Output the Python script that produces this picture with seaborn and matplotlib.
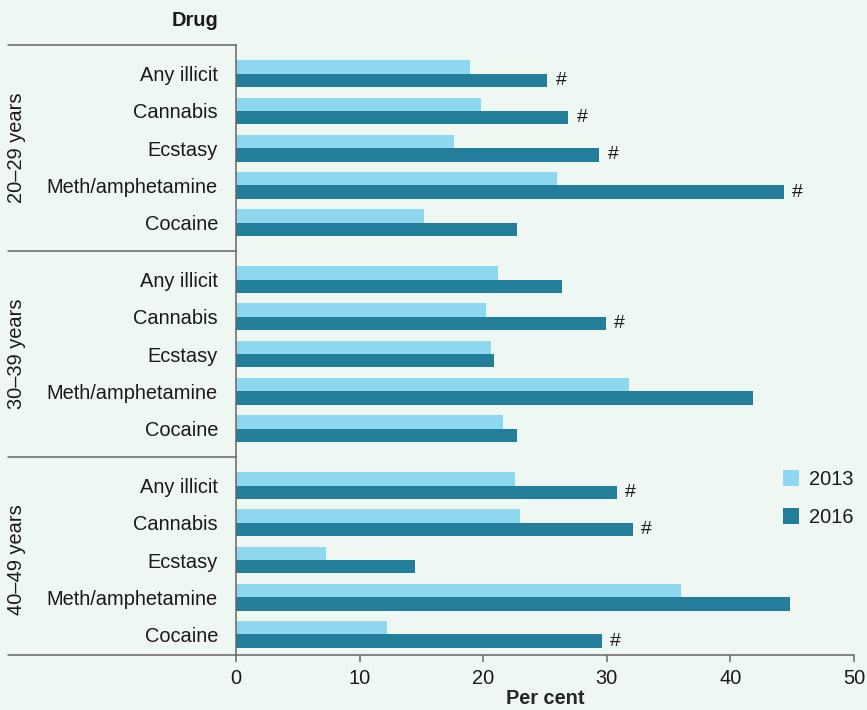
import numpy as np
import pandas as pd
import matplotlib
matplotlib.use("Agg")
import matplotlib.pyplot as plt
import matplotlib.transforms as mtransforms
import seaborn as sns

# data
age_groups = ["20\u201329 years", "30\u201339 years", "40\u201349 years"]
drugs = ["Any illicit", "Cannabis", "Ecstasy", "Meth/amphetamine", "Cocaine"]
years = ["2013", "2016"]

values_2013 = [
    [18.9, 19.8, 17.6, 26.0, 15.2],
    [21.2, 20.2, 20.6, 31.8, 21.6],
    [22.6, 23.0, 7.3, 36.0, 12.2],
]
values_2016 = [
    [25.2, 26.9, 29.4, 44.3, 22.7],
    [26.4, 29.9, 20.9, 41.8, 22.7],
    [30.8, 32.1, 14.5, 44.8, 29.6],
]
# '#' marks (significant change) on the 2016 bars
hash_2016 = [
    [True, True, True, True, False],
    [False, True, False, False, False],
    [True, True, False, False, True],
]

x_ticks = [0, 10, 20, 30, 40, 50]

BG = "#eff7f2"
LIGHT = "#8ed8ef"
DARK = "#237f99"
TXT = "#1a1a1a"
LINE = "#666666"

GROUP_STEP = 5.53
ROW_OFFSET = 0.77
Y_BOTTOM = 16.38

rows = []
for g, grp in enumerate(age_groups):
    for i, drug in enumerate(drugs):
        ypos = g * GROUP_STEP + ROW_OFFSET + i
        rows.append({"group": grp, "drug": drug, "year": "2013",
                     "value": values_2013[g][i], "ypos": ypos})
        rows.append({"group": grp, "drug": drug, "year": "2016",
                     "value": values_2016[g][i], "ypos": ypos})
df = pd.DataFrame(rows)

sns.set_theme(style="white")
plt.rcParams["font.family"] = ["Liberation Sans", "DejaVu Sans"]
plt.rcParams["text.color"] = TXT

fig = plt.figure(figsize=(8.67, 7.10), dpi=100, facecolor=BG)
ax = fig.add_axes([0.2722, 0.0775, 0.7128, 0.8591])
ax.set_facecolor(BG)

sns.barplot(data=df, x="value", y="ypos", hue="year", hue_order=years,
            orient="h", native_scale=True, width=0.72, errorbar=None,
            palette={"2013": LIGHT, "2016": DARK}, saturation=1,
            linewidth=0, ax=ax)

ax.set_xlim(0, 50)
ax.set_ylim(Y_BOTTOM, 0)
ax.set_xticks(x_ticks)
ax.set_xticklabels([str(t) for t in x_ticks], fontsize=14.4, color=TXT)

ytick_pos = sorted(df["ypos"].unique())
ax.set_yticks(ytick_pos)
ax.set_yticklabels(drugs * len(age_groups), fontsize=14.4, color=TXT)
ax.tick_params(axis="y", length=0, pad=13)
ax.tick_params(axis="x", length=5, width=1.1, color=LINE, pad=5,
               direction="out", bottom=True)

for side in ["top", "right"]:
    ax.spines[side].set_visible(False)
for side in ["left", "bottom"]:
    ax.spines[side].set_color(LINE)
    ax.spines[side].set_linewidth(1.1)

ax.set_xlabel("Per cent", fontsize=14.4, fontweight="bold", labelpad=1)
ax.set_ylabel("")

# '#' markers after the 2016 bars
for g in range(len(age_groups)):
    for i in range(len(drugs)):
        if hash_2016[g][i]:
            y = g * GROUP_STEP + ROW_OFFSET + i + 0.18
            ax.annotate("#", xy=(values_2016[g][i], y), xytext=(6, 0),
                        textcoords="offset points", ha="left", va="center",
                        fontsize=14, color=TXT)

# group separators and rotated group labels on the left
trans = mtransforms.blended_transform_factory(ax.transAxes, ax.transData)
for g in range(len(age_groups) + 1):
    y = min(g * GROUP_STEP, Y_BOTTOM)
    ax.plot([-0.369, 0], [y, y], transform=trans, color=LINE, lw=1.1,
            clip_on=False)
for g, grp in enumerate(age_groups):
    yc = g * GROUP_STEP + ROW_OFFSET + 2
    ax.text(-0.355, yc, grp, transform=trans, rotation=90, ha="center",
            va="center", fontsize=14.4, color=TXT)

fig.text(218 / 867, 1 - 20 / 710, "Drug", ha="right", va="center",
         fontsize=14.4, fontweight="bold", color=TXT)

sns.move_legend(ax, "upper left", bbox_to_anchor=(783 / 867, 1 - 470 / 710),
                bbox_transform=fig.transFigure, frameon=False, title=None,
                fontsize=14.4, handlelength=0.8, handleheight=0.8,
                handletextpad=0.5, labelspacing=0.95, borderpad=0,
                borderaxespad=0)

fig.savefig("out.png", dpi=100, facecolor=BG)
